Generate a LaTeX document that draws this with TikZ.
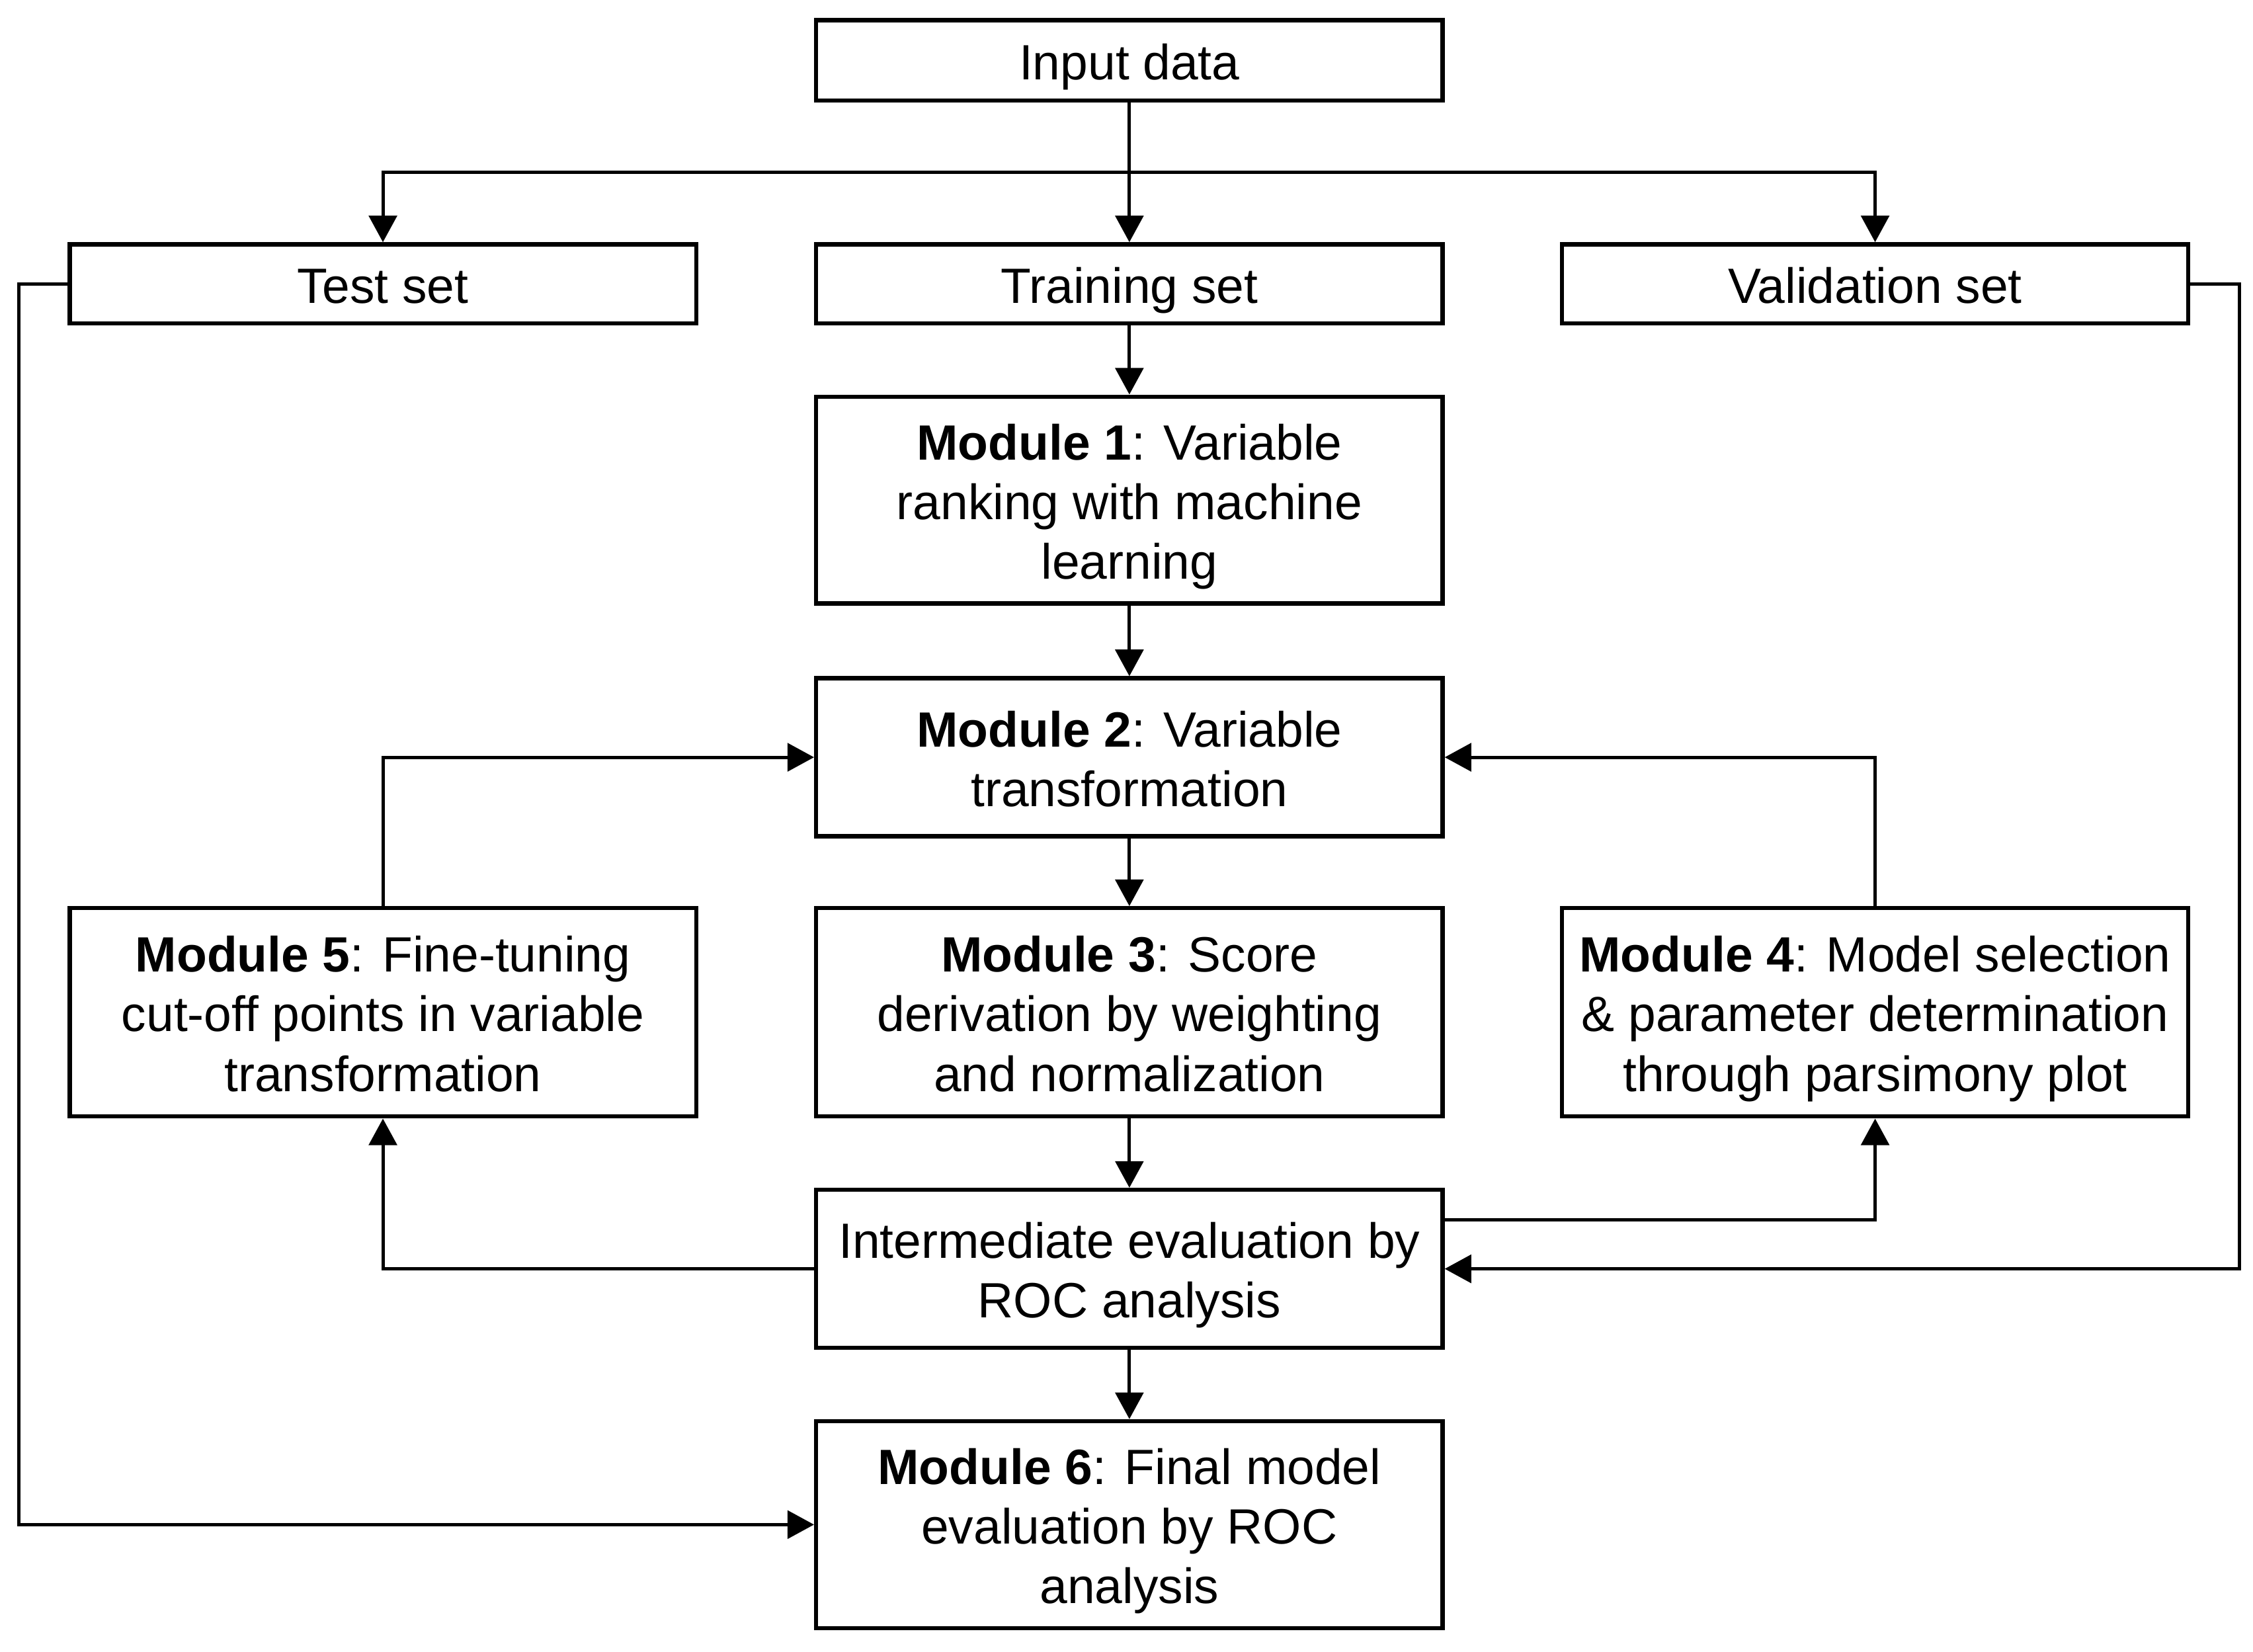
\documentclass[tikz,border=0pt]{standalone}
\usepackage{fontspec}
\setmainfont{Liberation Sans}
\usetikzlibrary{arrows.meta,calc}
\begin{document}
\begin{tikzpicture}[x=1pt,y=-1pt,
  box/.style={draw=black,line width=2.9pt,minimum width=436pt,align=center,inner sep=0pt,
    text height=30pt,text depth=3.2pt,
    font=\fontsize{34.5}{41.5}\selectfont},
  twolines/.style={text height=71.5pt},
  threelines/.style={text height=113pt},
  arr/.style={line width=2.3pt,-{Triangle[length=18.5pt,width=19.5pt]}}]
\useasboundingbox (0,0) rectangle (1568,1149.65);
\node[box,minimum height=56pt] (in) at (786,42) {Input data};
\node[box,minimum height=55pt] (test) at (266.5,197.5) {Test set};
\node[box,minimum height=55pt] (train) at (786,197.5) {Training set};
\node[box,minimum height=55pt] (val) at (1305,197.5) {Validation set};
\node[box,threelines,minimum height=144pt] (m1) at (786,348) {\textbf{Module 1}: Variable\\ranking with machine\\learning};
\node[box,twolines,minimum height=110pt] (m2) at (786,527) {\textbf{Module 2}: Variable\\transformation};
\node[box,threelines,minimum height=145pt] (m5) at (266.5,704.5) {\textbf{Module 5}: Fine-tuning\\cut-off points in variable\\transformation};
\node[box,threelines,minimum height=145pt] (m3) at (786,704.5) {\textbf{Module 3}: Score\\derivation by weighting\\and normalization};
\node[box,threelines,minimum height=145pt] (m4) at (1305,704.5) {\textbf{Module 4}: Model selection\\\& parameter determination\\through parsimony plot};
\node[box,twolines,minimum height=110pt] (ie) at (786,883) {Intermediate evaluation by\\ROC analysis};
\node[box,threelines,minimum height=144pt] (m6) at (786,1061) {\textbf{Module 6}: Final model\\evaluation by ROC\\analysis};
\coordinate (split) at ($(in.south)!0.5!(train.north)$);
\draw[arr] (in.south) -- (train.north);
\draw[arr] (split) -| (test.north);
\draw[arr] (split) -| (val.north);
\draw[arr] (train.south) -- (m1.north);
\draw[arr] (m1.south) -- (m2.north);
\draw[arr] (m2.south) -- (m3.north);
\draw[arr] (m3.south) -- (ie.north);
\draw[arr] (ie.south) -- (m6.north);
\draw[arr] (m5.north) |- (m2.west);
\draw[arr] (m4.north) |- (m2.east);
\draw[arr] (ie.west) -| (m5.south);
\draw[arr] ($(ie.east)+(0,-34)$) -| (m4.south);
\draw[arr] (test.west) -- ++(-34,0) |- (m6.west);
\draw[arr] (val.east) -- ++(34,0) |- (ie.east);
\end{tikzpicture}
\end{document}
